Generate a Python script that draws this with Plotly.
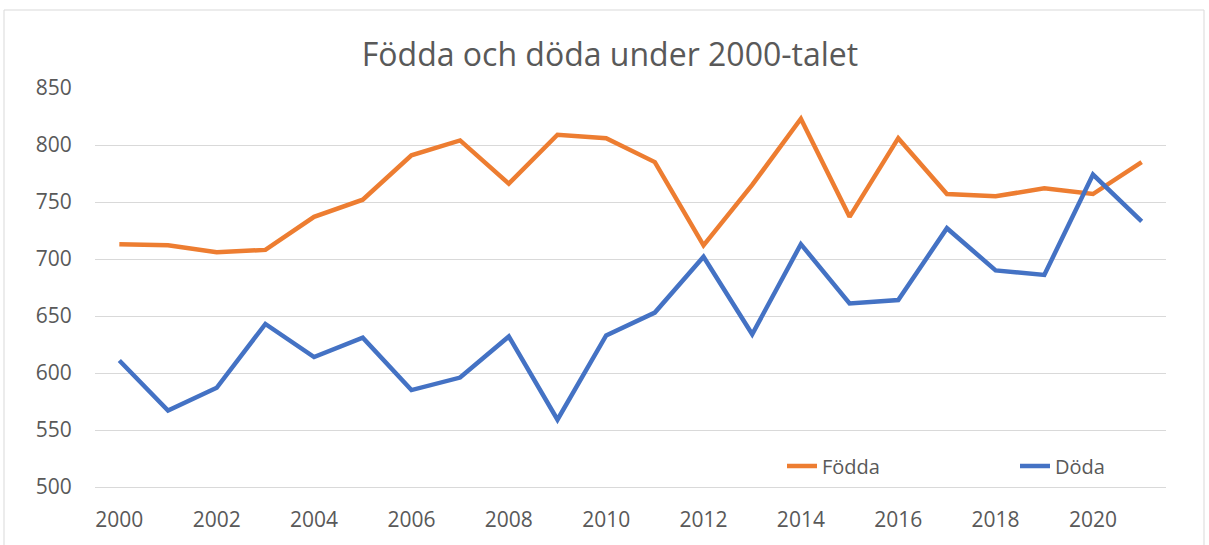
import plotly.graph_objects as go

years = list(range(2000, 2022))
fodda = [713, 712, 706, 708, 737, 752, 791, 804, 766, 809, 806, 785, 712, 765, 823, 737, 806, 757, 755, 762, 757, 785]
doda = [611, 567, 587, 643, 614, 631, 585, 596, 632, 559, 633, 653, 702, 634, 713, 661, 664, 727, 690, 686, 774, 733]
tick_years = list(range(2000, 2021, 2))
y_ticks = [500, 550, 600, 650, 700, 750, 800, 850]

W, H = 1209, 545
ml, mr, mt, mb = 95, 43, 88, 58
pw, ph = W - ml - mr, H - mt - mb

fig = go.Figure()
fig.add_trace(go.Scatter(x=years, y=fodda, mode="lines", name="Födda", legend="legend",
                         line=dict(color="#ED7D31", width=4.5)))
fig.add_trace(go.Scatter(x=years, y=doda, mode="lines", name="Döda", legend="legend2",
                         line=dict(color="#4472C4", width=4.5)))

font = "Open Sans"
leg_common = dict(orientation="h", xanchor="left", y=(487 - 466) / ph, yanchor="middle",
                  bgcolor="rgba(0,0,0,0)", font=dict(family=font, size=20, color="#595959"))
fig.update_layout(
    width=W, height=H, autosize=False,
    margin=dict(l=ml, r=mr, t=mt, b=mb),
    paper_bgcolor="white", plot_bgcolor="white",
    title=dict(text="Födda och döda under 2000-talet", x=610 / W, xanchor="center",
               y=1 - 55 / H, yanchor="middle",
               font=dict(family=font, size=32, color="#595959")),
    font=dict(family=font, color="#595959", size=20),
    showlegend=True,
    legend=dict(x=(782 - ml) / pw, **leg_common),
    legend2=dict(x=(1015 - ml) / pw, **leg_common),
    xaxis=dict(range=[1999.5, 2021.5], tickvals=tick_years, showgrid=False,
               zeroline=False, showline=True, linecolor="#D9D9D9",
               ticks="outside", ticklen=14, tickcolor="rgba(0,0,0,0)",
               tickfont=dict(family=font, size=21, color="#595959")),
    yaxis=dict(range=[500, 850], tickvals=y_ticks, showgrid=True, gridcolor="#D9D9D9",
               gridwidth=1, zeroline=False, showline=False,
               ticks="outside", ticklen=18, tickcolor="rgba(0,0,0,0)",
               tickfont=dict(family=font, size=21, color="#595959")),
    shapes=[dict(type="rect", xref="paper", yref="paper",
                 x0=(4 - ml) / pw, x1=(1204 - ml) / pw,
                 y0=(487 - 560) / ph, y1=(487 - 10) / ph,
                 line=dict(color="#D9D9D9", width=1), fillcolor="rgba(0,0,0,0)", layer="below")],
)
post = ("document.body.style.margin='0';document.body.style.padding='0';"
        "document.body.style.overflow='hidden';"
        "document.documentElement.style.overflow='hidden';")
fig.write_html("out.html", config={"responsive": False, "displayModeBar": False},
               post_script=post)
